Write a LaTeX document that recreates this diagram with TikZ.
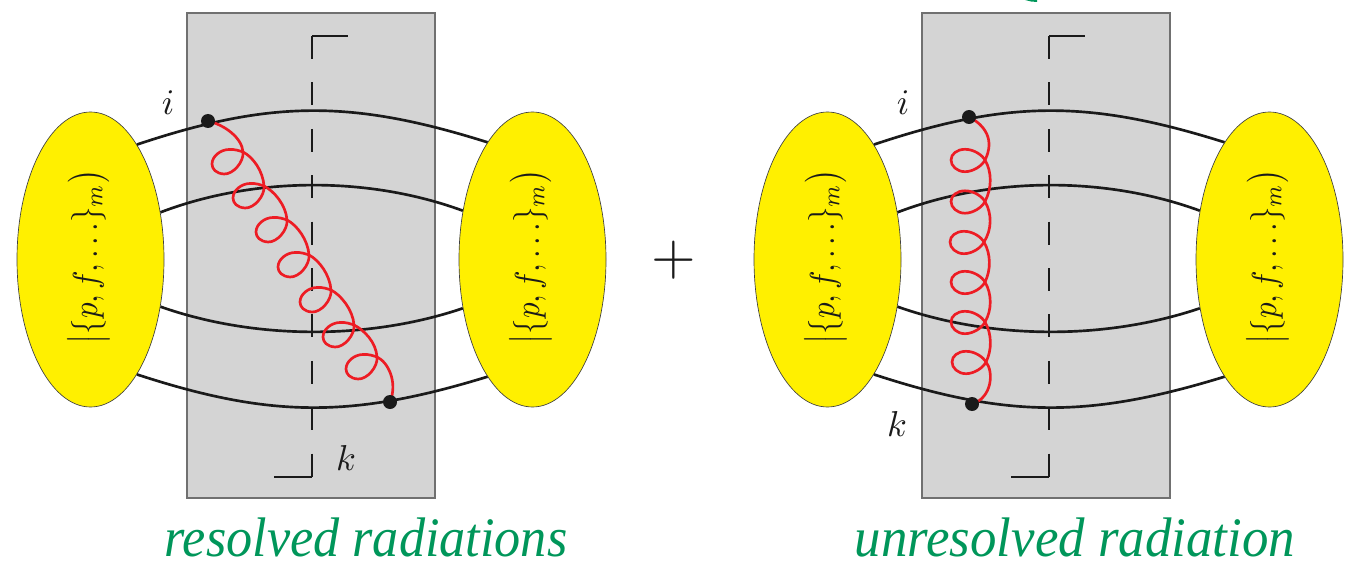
\documentclass[tikz,border=0pt]{standalone}
\usepackage{fontspec}
\newfontfamily\capfont{Liberation Serif}
\usetikzlibrary{shapes.geometric,calc}
\definecolor{boxgray}{HTML}{D4D4D4}
\definecolor{boxline}{HTML}{707070}
\definecolor{blob}{HTML}{FFF000}
\definecolor{gluon}{HTML}{ED1C24}
\definecolor{capgreen}{HTML}{00965A}
\definecolor{ink}{HTML}{1A1A1A}
\tikzset{
  cutbox/.style={fill=boxgray,draw=boxline,line width=1pt},
  blobnode/.style={ellipse,fill=blob,draw=black!75,line width=.5pt,minimum width=110.25pt,minimum height=221.25pt,inner sep=0pt},
  blobtext/.style={inner sep=0pt,text=ink},
  line/.style={draw=ink,line width=2pt},
  cutdash/.style={draw=ink,line width=2pt,dash pattern=on 17.25pt off 17.55pt},
  cutend/.style={draw=ink,line width=2pt},
  glu/.style={draw=gluon,line width=2pt,line cap=round,line join=round},
  dotnode/.style={circle,fill=ink,inner sep=0pt,minimum size=10.5pt},
  lab/.style={inner sep=0pt,text=ink},
  caption/.style={inner sep=0pt,text=capgreen,anchor=base}
}
\newcommand{\blobtxt}{\rotatebox{90}{\scalebox{2.32}[2.6]{$\big|\{p,f,\ldots\}_m\big)$}}}
\newcommand{\panel}[3]{%
  \begin{scope}[shift={(#3,0)}]
    \path[cutbox] (187,13) rectangle (435,498);
  \end{scope}
  \begin{scope}[shift={(#2,0)}]
    \coordinate (ct#1) at (312,36);
    \coordinate (cb#1) at (312,477);
    \coordinate (ctt#1) at (348,36);
    \coordinate (cbb#1) at (274,477);
    \node[blobnode] (L#1) at (90.5,259.5) {};
    \node[blobnode] (R#1) at (532.5,259.5) {};
    \node[blobtext] (LT#1) at (88.5,257) {\blobtxt};
    \node[blobtext] (RT#1) at (530.5,257) {\blobtxt};
    \path[line] (L#1.68.3) .. controls (271,99.7) and (352,99.7) .. (R#1.111.7);
    \path[line] (L#1.34.9) .. controls (255,176.3) and (369,176.3) .. (R#1.145.1);
    \path[line] (L#1.-34.9) .. controls (255,340) and (369,340) .. (R#1.-145.1);
    \path[line] (L#1.-68.3) .. controls (271,418.3) and (352,418.3) .. (R#1.-111.7);
    \path[cutdash] (ct#1) -- (cb#1);
    \path[cutend] (ct#1) -- (ctt#1);
    \path[cutend] (cb#1) -- (cbb#1);
  \end{scope}}
% one loop of the left (slanted) gluon, from its crossing point back to it
\newcommand{\loopA}[2]{\begin{scope}[shift={(#1,#2)}]\path[glu] (0,0)
  .. controls (1,10) and (-10,22.5) .. (-19,22)
  .. controls (-27,21.5) and (-31,17) .. (-31,12)
  .. controls (-31,4) and (-22,-2.5) .. (-14,-2.5)
  .. controls (-8,-3) and (-3,-1) .. (0,0);\end{scope}}
\newcommand{\loopB}[2]{\begin{scope}[shift={(#1,#2)}]\path[glu] (0,0)
  .. controls (-3,6) and (-12,11.7) .. (-20,11.7)
  .. controls (-28,11.7) and (-34,6) .. (-34,0)
  .. controls (-34,-6) and (-28,-10.7) .. (-20,-10.7)
  .. controls (-11,-10.7) and (-3,-5) .. (0,0);\end{scope}}
\begin{document}
\begin{tikzpicture}[x=.75pt,y=-.75pt]
\useasboundingbox (0,0) rectangle (1362,563);
\path[fill=capgreen] (1025,0) -- (1037,0) -- (1037,2) -- (1031,1.5) -- cycle;
\panel{a}{0}{0}
\panel{b}{737}{735}
% dot positions
\coordinate (ica) at (208,121);
\coordinate (kca) at (390,402);
\coordinate (icb) at (969,117);
\coordinate (kcb) at (972,404);
% left gluon
\foreach \x/\y in {243/152,264/186,287/220,309/255,331/290,354/325,377/357}{\loopA{\x}{\y}}
\path[glu] (ica) .. controls (225,125) and (242,138) .. (243,152);
\foreach \x/\y/\u/\v in {243/152/264/186,264/186/287/220,287/220/309/255,309/255/331/290,331/290/354/325,354/325/377/357}{
  \path[glu] (\x,\y) .. controls ($(\x,\y)+(10,5)$) and ($(\u,\v)+(-1,-15)$) .. (\u,\v);}
\path[glu] (377,357) .. controls (388,362) and (398,382) .. (kca);
% right gluon
\foreach \x/\y in {985/160,985/201.5,984/242,985/282,985/322,986/362}{\loopB{\x}{\y}}
\path[glu] (icb) .. controls (985,125) and (995,140) .. (985,160);
\foreach \x/\y/\u/\v in {985/160/985/201.5,985/201.5/984/242,984/242/985/282,985/282/985/322,985/322/986/362}{
  \path[glu] (\x,\y) .. controls ($(\x,\y)+(7,12)$) and ($(\x,\y)+(7,28)$) .. (\u,\v);}
\path[glu] (986,362) .. controls (994,372) and (992,398) .. (kcb);
% dots
\node[dotnode] (ia) at (ica) {};
\node[dotnode] (ka) at (kca) {};
\node[dotnode] (ib) at (icb) {};
\node[dotnode] (kb) at (kcb) {};
% labels
\node[lab] (li) at (168,103) {\scalebox{2.7}{$i$}};
\node[lab] (lib) at (903,103) {\scalebox{2.7}{$i$}};
\node[lab] (lk) at (346,458) {\scalebox{2.7}{$k$}};
\node[lab] (lkb) at (897,424) {\scalebox{2.7}{$k$}};
\node[lab] (plus) at (674,260) {\scalebox{4.3}{$+$}};
\node[caption] (c1) at (366,556.5) {\resizebox{302pt}{29pt}{\capfont\itshape resolved radiations}};
\node[caption] (c2) at (1075,556.5) {\resizebox{330pt}{29pt}{\capfont\itshape unresolved radiation}};
\end{tikzpicture}
\end{document}
